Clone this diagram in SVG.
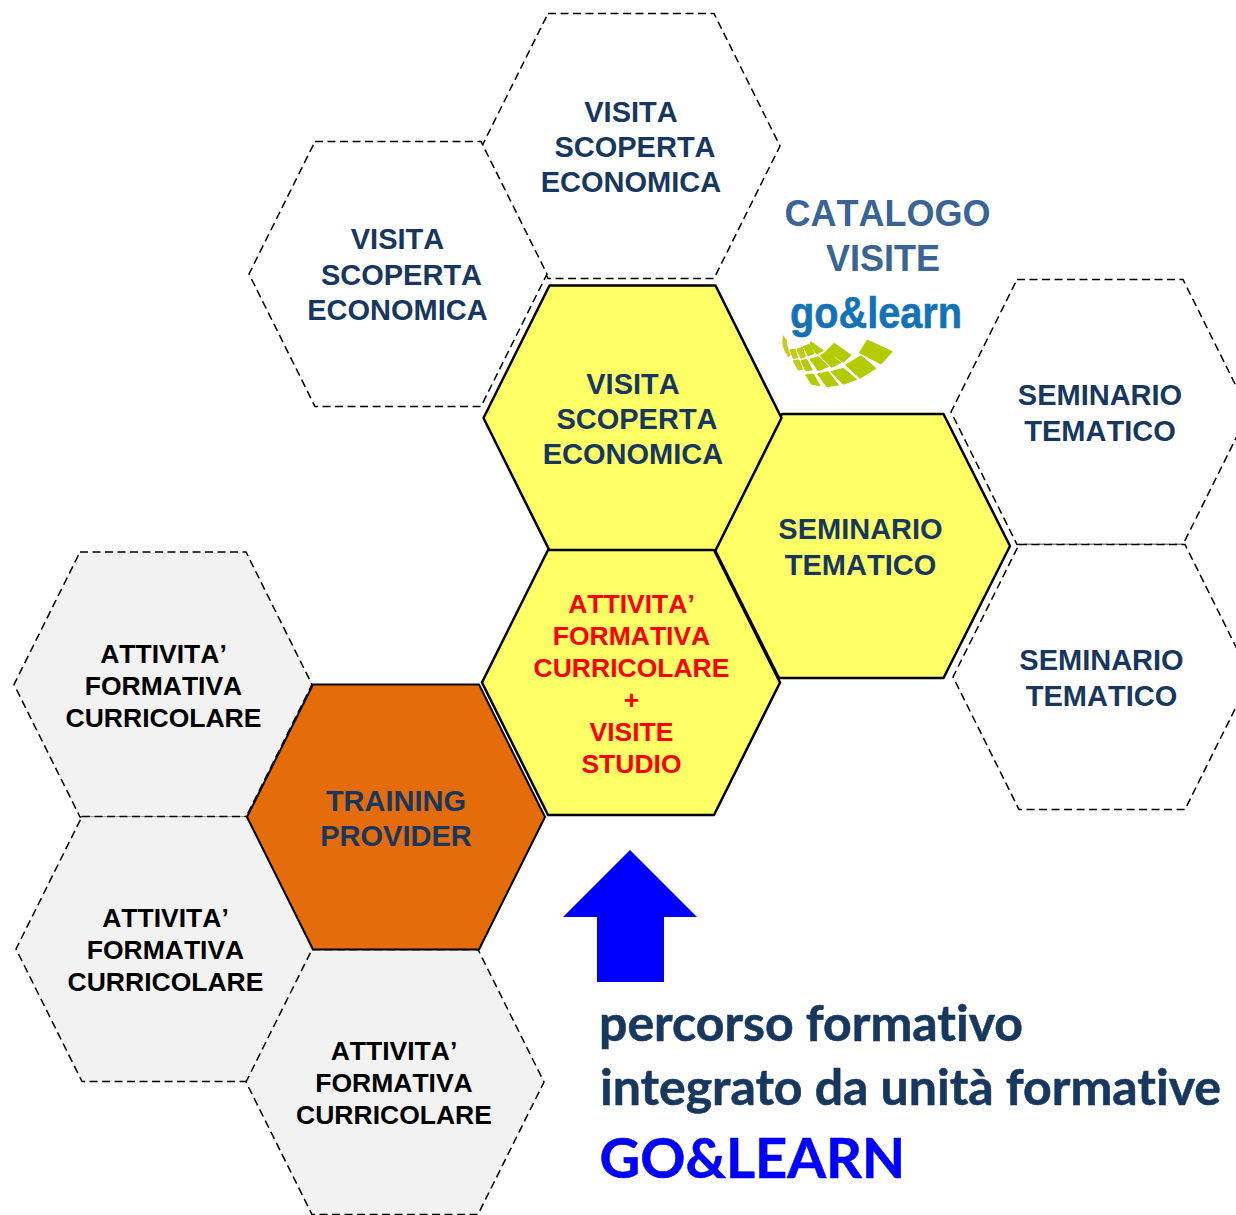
<svg xmlns="http://www.w3.org/2000/svg" width="1236" height="1215" viewBox="0 0 1236 1215">
<style>
text{font-family:"Liberation Sans",Arial,sans-serif;font-weight:700;text-anchor:middle;font-kerning:none}
.navy{fill:#17375e;font-size:29px}
.blk{fill:#000;font-size:26.5px}
.red{fill:#f00;font-size:26.5px}
.dash{fill:#fff;stroke:#000;stroke-width:1.5;stroke-dasharray:8 4.5}
.dashg{fill:#f2f2f2;stroke:#000;stroke-width:1.5;stroke-dasharray:8 4.5}
.sol{fill:#ff6;stroke:#000;stroke-width:2.5;stroke-linejoin:round}
.org{fill:#e46c0a;stroke:#000;stroke-width:2;stroke-linejoin:round}
.foot{text-anchor:start;font-family:Lato,"Open Sans",sans-serif;font-weight:700;fill:#17375e;stroke:#17375e;stroke-width:.6;font-size:50px;font-kerning:normal;font-variant-ligatures:none}
</style>
<defs><polygon id="h" points="-83,-132.5 83,-132.5 149,0 83,132.5 -83,132.5 -149,0"/></defs>
<g id="connectors"></g>
<g id="visit-top"><use href="#h" x="631" y="146" class="dash"/><text class="navy"><tspan x="631" y="122">VISITA</tspan><tspan x="635" y="157">SCOPERTA</tspan><tspan x="631" y="192">ECONOMICA</tspan></text></g>
<g id="visit-left"><use href="#h" x="398" y="274" class="dash"/><text class="navy"><tspan x="397.500" y="249">VISITA</tspan><tspan x="401.500" y="285">SCOPERTA</tspan><tspan x="397.500" y="320">ECONOMICA</tspan></text></g>
<g id="sem-top"><use href="#h" x="1100" y="412" class="dash"/><text class="navy"><tspan x="1100" y="405">SEMINARIO</tspan><tspan x="1100" y="441">TEMATICO</tspan></text></g>
<g id="sem-bottom"><use href="#h" x="1102" y="677" class="dash"/><text class="navy"><tspan x="1101.500" y="670">SEMINARIO</tspan><tspan x="1101.500" y="706">TEMATICO</tspan></text></g>
<g id="sem-main"><polygon class="sol" points="782,414 943.500,414 1010,546 943.500,678 779,678 715,550"/><text class="navy"><tspan x="860.500" y="539">SEMINARIO</tspan><tspan x="860.500" y="575">TEMATICO</tspan></text></g>
<g id="visit-main"><use href="#h" x="632.500" y="418" class="sol"/><text class="navy"><tspan x="633" y="394">VISITA</tspan><tspan x="637" y="429">SCOPERTA</tspan><tspan x="633" y="464">ECONOMICA</tspan></text></g>
<g id="att-1"><use href="#h" x="163" y="684.500" class="dashg"/><text class="blk"><tspan x="163.500" y="663">ATTIVITA’</tspan><tspan x="163.500" y="695">FORMATIVA</tspan><tspan x="163.500" y="727">CURRICOLARE</tspan></text></g>
<g id="att-2"><use href="#h" x="165" y="949" class="dashg"/><text class="blk"><tspan x="165.500" y="927">ATTIVITA’</tspan><tspan x="165.500" y="959">FORMATIVA</tspan><tspan x="165.500" y="991">CURRICOLARE</tspan></text></g>
<g id="att-3"><use href="#h" x="395" y="1082" class="dashg"/><text class="blk"><tspan x="394" y="1060">ATTIVITA’</tspan><tspan x="394" y="1092">FORMATIVA</tspan><tspan x="394" y="1124">CURRICOLARE</tspan></text></g>
<g id="provider"><use href="#h" x="396" y="817" class="org"/><text class="navy"><tspan x="396" y="811">TRAINING</tspan><tspan x="396" y="846">PROVIDER</tspan></text></g>
<g id="att-main"><use href="#h" x="631" y="682.500" class="sol"/><text class="red"><tspan x="631.500" y="613">ATTIVITA’</tspan><tspan x="631.500" y="645">FORMATIVA</tspan><tspan x="631.500" y="677">CURRICOLARE</tspan><tspan x="631.500" y="709">+</tspan><tspan x="631.500" y="741">VISITE</tspan><tspan x="631.500" y="773">STUDIO</tspan></text></g>
<g id="catalogo"><text fill="#3a6496" font-size="36"><tspan x="887.500" y="226">CATALOGO</tspan><tspan x="883" y="271">VISITE</tspan></text></g>
<g id="logo">
<text x="790" y="328" fill="#1272b8" stroke="#1272b8" stroke-width=".6" font-size="44" style="text-anchor:start" textLength="172" lengthAdjust="spacingAndGlyphs">go&amp;learn</text>
<g transform="translate(775 290) scale(.3333)" fill="#b2cc00" stroke="#b2cc00" stroke-width="3" stroke-linejoin="round">
<path fill="#c9c92a" stroke="none" d="M24 135Q15 170 40 202L48 196Q35 170 36 150Z"/>
<polygon fill="#c0cc20" points="45,180 55,205 68,203 60,178"/><polygon fill="#c0cc20" points="65,178 78,205 92,200 82,172"/><polygon points="85,170 100,198 118,190 102,163"/><polygon points="108,155 145,182 125,192 105,165"/><polygon points="178,160 228,195 205,217 155,182"/>
<polygon fill="#c0cc20" points="55,212 70,240 82,238 72,210"/><polygon points="78,212 92,242 112,240 95,208"/><polygon points="105,208 130,242 160,230 130,200"/><polygon points="135,197 170,232 197,218 157,183"/><polygon points="212,225 258,197 303,235 255,265"/>
<polygon points="92,255 110,283 135,287 115,252"/><polygon points="128,252 155,290 190,285 160,245"/><polygon points="168,245 205,235 245,268 205,283"/>
<polygon points="277,150 352,185 318,222 253,188"/>
</g></g>
<g id="arrow"><polygon fill="#00f" points="630,850 697,917 664,917 664,982 597,982 597,917 563,917"/></g>
<g id="caption"><text class="foot" x="599" y="1040.500">percorso formativo</text><text class="foot" x="600" y="1104.500">integrato da unità formative</text><text class="foot" x="599.500" y="1177.500" style="fill:#00f;stroke:#00f;font-size:56px">GO&amp;LEARN</text></g>
</svg>
